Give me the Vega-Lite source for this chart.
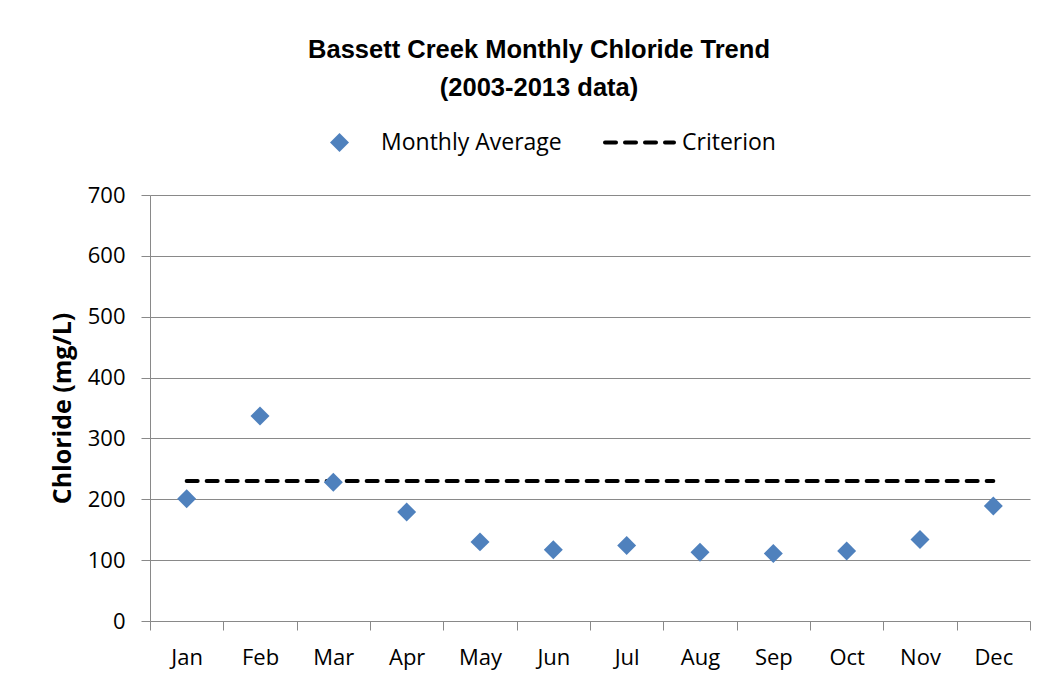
{
  "$schema": "https://vega.github.io/schema/vega-lite/v6.json",
  "width": 880,
  "height": 426,
  "autosize": {"type": "none"},
  "padding": {"left": 150, "top": 195, "right": 20, "bottom": 64},
  "background": "white",
  "title": {
    "text": ["Bassett Creek Monthly Chloride Trend", "(2003-2013 data)"],
    "font": "Liberation Sans Narrow, Liberation Sans, sans-serif",
    "fontWeight": "bold",
    "fontSize": 25.5,
    "lineHeight": 38,
    "color": "black",
    "anchor": "middle",
    "frame": "group",
    "dx": -51,
    "offset": 5
  },
  "data": {
    "values": [
      {"month": "Jan", "avg": 201, "criterion": 230},
      {"month": "Feb", "avg": 337, "criterion": 230},
      {"month": "Mar", "avg": 228, "criterion": 230},
      {"month": "Apr", "avg": 179, "criterion": 230},
      {"month": "May", "avg": 130, "criterion": 230},
      {"month": "Jun", "avg": 117, "criterion": 230},
      {"month": "Jul", "avg": 124, "criterion": 230},
      {"month": "Aug", "avg": 113, "criterion": 230},
      {"month": "Sep", "avg": 111, "criterion": 230},
      {"month": "Oct", "avg": 115, "criterion": 230},
      {"month": "Nov", "avg": 134, "criterion": 230},
      {"month": "Dec", "avg": 189, "criterion": 230}
    ]
  },
  "encoding": {
    "x": {
      "field": "month",
      "type": "ordinal",
      "sort": null,
      "scale": {"paddingInner": 0, "paddingOuter": 0},
      "axis": {
        "title": null,
        "tickBand": "extent",
        "labelAngle": 0,
        "tickSize": 9,
        "labelPadding": 17,
        "grid": false
      }
    }
  },
  "layer": [
    {
      "mark": {"type": "line", "color": "black", "strokeWidth": 4, "strokeCap": "round"},
      "encoding": {
        "y": {
          "field": "criterion",
          "type": "quantitative",
          "scale": {"domain": [0, 700], "nice": false},
          "axis": {
            "title": "Chloride (mg/L)",
            "values": [0, 100, 200, 300, 400, 500, 600, 700],
            "tickSize": 9,
            "labelPadding": 16,
            "titlePadding": 12,
            "grid": true
          }
        },
        "strokeDash": {
          "datum": "Criterion",
          "scale": {"range": [[11, 9]]},
          "legend": {
            "title": null,
            "orient": "none",
            "legendX": 453,
            "legendY": -89,
            "symbolType": "stroke",
            "symbolSize": 4761,
            "symbolStrokeColor": "black",
            "symbolStrokeWidth": 4,
            "symbolDash": [11, 9],
            "labelOffset": 6,
            "labelLimit": 400,
            "labelFont": "Open Sans",
            "labelFontSize": 23,
            "labelColor": "black",
            "encode": {"symbols": {"update": {"strokeCap": {"value": "round"}}}}
          }
        }
      }
    },
    {
      "mark": {"type": "point", "shape": "diamond", "filled": true, "color": "#4F81BD", "size": 360, "opacity": 1},
      "encoding": {
        "y": {
          "field": "avg",
          "type": "quantitative",
          "axis": {
            "title": "Chloride (mg/L)",
            "values": [0, 100, 200, 300, 400, 500, 600, 700],
            "tickSize": 9,
            "labelPadding": 16,
            "titlePadding": 12,
            "grid": true
          }
        },
        "shape": {
          "datum": "Monthly Average",
          "scale": {"range": ["diamond"]},
          "legend": {
            "title": null,
            "orient": "none",
            "legendX": 178,
            "legendY": -64,
            "symbolType": "diamond",
            "symbolSize": 360,
            "symbolFillColor": "#4F81BD",
            "symbolStrokeWidth": 0,
            "symbolOpacity": 1,
            "labelOffset": 30,
            "labelLimit": 400,
            "labelFont": "Open Sans",
            "labelFontSize": 23,
            "labelColor": "black"
          }
        }
      }
    }
  ],
  "config": {
    "view": {"stroke": null},
    "axis": {
      "labelFont": "Open Sans",
      "labelFontSize": 22,
      "labelColor": "black",
      "domainColor": "#898989",
      "tickColor": "#898989",
      "gridColor": "#898989",
      "titleFont": "Open Sans",
      "titleFontWeight": "bold",
      "titleFontSize": 25,
      "titleColor": "black"
    }
  }
}
